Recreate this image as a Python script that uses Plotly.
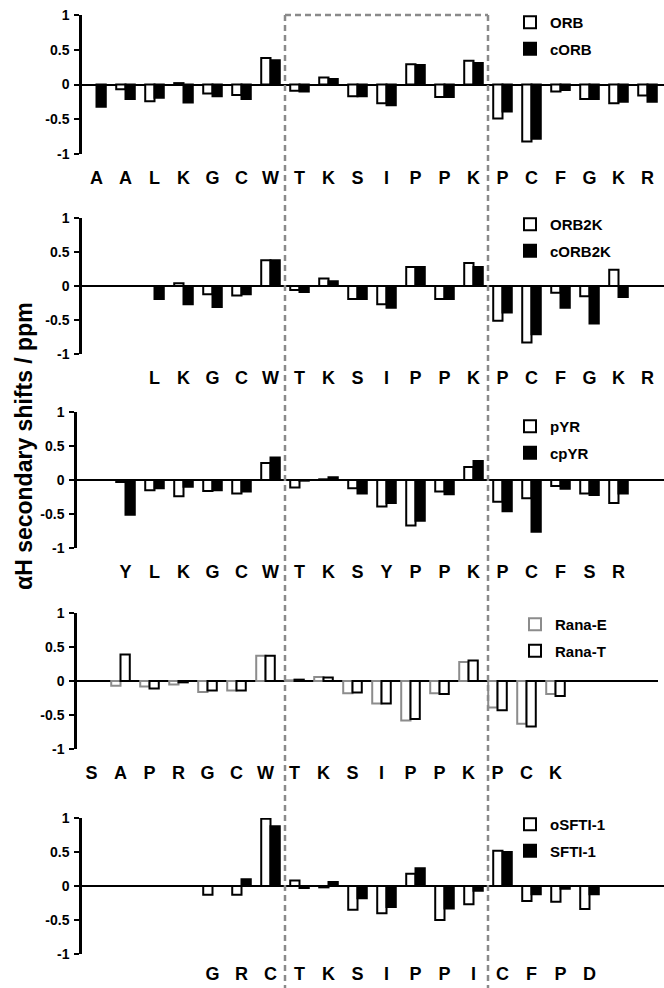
import plotly.graph_objects as go

W, H = 664, 988
FONT = "Liberation Sans, Arial, sans-serif"

# ---------------- data ----------------
labels1 = ['A','A','L','K','G','C','W','T','K','S','I','P','P','K','P','C','F','G','K','R']
orb  = [None,-0.07,-0.24,0.02,-0.13,-0.15,0.38,-0.09,0.10,-0.17,-0.27,0.29,-0.18,0.34,-0.49,-0.82,-0.10,-0.21,-0.27,-0.16]
corb = [-0.32,-0.21,-0.19,-0.26,-0.17,-0.21,0.35,-0.10,0.08,-0.17,-0.30,0.28,-0.18,0.31,-0.39,-0.78,-0.08,-0.21,-0.25,-0.25]

labels2 = ['','','L','K','G','C','W','T','K','S','I','P','P','K','P','C','F','G','K','R']
orb2k  = [None,None,None,0.04,-0.12,-0.14,0.38,-0.06,0.11,-0.19,-0.27,0.28,-0.19,0.34,-0.51,-0.83,-0.10,-0.15,0.24,None]
corb2k = [None,None,-0.19,-0.27,-0.31,-0.12,0.38,-0.09,0.07,-0.19,-0.32,0.28,-0.19,0.28,-0.39,-0.71,-0.32,-0.55,-0.16,None]

labels3 = ['','Y','L','K','G','C','W','T','K','S','Y','P','P','K','P','C','F','S','R','']
pyr  = [None,-0.03,-0.15,-0.24,-0.16,-0.20,0.25,-0.11,0.01,-0.12,-0.39,-0.67,-0.17,0.19,-0.32,-0.27,-0.09,-0.20,-0.34,None]
cpyr = [None,-0.51,-0.12,-0.10,-0.15,-0.17,0.33,-0.01,0.04,-0.20,-0.34,-0.60,-0.21,0.28,-0.46,-0.76,-0.13,-0.22,-0.20,None]

labels4 = ['S','A','P','R','G','C','W','T','K','S','I','P','P','K','P','C','K','','','']
rana_e = [None,-0.07,-0.08,-0.05,-0.16,-0.14,0.37,0.01,0.06,-0.18,-0.33,-0.58,-0.18,0.28,-0.39,-0.63,-0.19,None,None,None]
rana_t = [None,0.39,-0.11,-0.02,-0.14,-0.14,0.37,0.02,0.05,-0.17,-0.33,-0.56,-0.19,0.30,-0.43,-0.67,-0.22,None,None,None]

labels5 = ['','','','','G','R','C','T','K','S','I','P','P','I','C','F','P','D','','']
osfti = [None,None,None,None,-0.13,-0.13,0.99,0.08,-0.02,-0.35,-0.40,0.18,-0.50,-0.27,0.52,-0.22,-0.23,-0.34,None,None]
sfti  = [None,None,None,None,None,0.10,0.88,-0.03,0.06,-0.18,-0.31,0.26,-0.33,-0.07,0.50,-0.12,-0.04,-0.12,None,None]

y_ticks = [-1, -0.5, 0, 0.5, 1]
y_ticktext = ['-1', '-0.5', '0', '0.5', '1']

panels = [
    dict(labels=labels1, series=[("ORB", orb, "white", "black"), ("cORB", corb, "black", "black")],
         top=15, bottom=154, left=82, standoff=11),
    dict(labels=labels2, series=[("ORB2K", orb2k, "white", "black"), ("cORB2K", corb2k, "black", "black")],
         top=218, bottom=354, left=82, standoff=11),
    dict(labels=labels3, series=[("pYR", pyr, "white", "black"), ("cpYR", cpyr, "black", "black")],
         top=412, bottom=548, left=77, standoff=11),
    dict(labels=labels4, series=[("Rana-E", rana_e, "white", "#8c8c8c"), ("Rana-T", rana_t, "white", "black")],
         top=613, bottom=749, left=77, right=658, shift=-5, standoff=11),
    dict(labels=labels5, series=[("oSFTI-1", osfti, "white", "black"), ("SFTI-1", sfti, "black", "black")],
         top=818, bottom=954, left=82, standoff=7),
]
legend_pos = [(510, 6), (510, 208), (510, 410), (515, 608), (510, 808)]

SLOT = 29.0
fig = go.Figure()
layout = dict(
    width=W, height=H, margin=dict(l=0, r=0, t=0, b=0, autoexpand=False),
    paper_bgcolor="white", plot_bgcolor="rgba(0,0,0,0)",
    barmode="group", bargap=0.36, bargroupgap=0.0,
    font=dict(family=FONT, color="black", weight="bold"),
)

for i, p in enumerate(panels):
    n = i + 1
    xa = "x" if n == 1 else f"x{n}"
    ya = "y" if n == 1 else f"y{n}"
    lg = "legend" if n == 1 else f"legend{n}"
    idx = list(range(len(p["labels"])))
    for j, (name, vals, fill, line) in enumerate(p["series"]):
        fig.add_trace(go.Bar(
            x=idx, y=vals, name=name, xaxis=xa, yaxis=ya, legend=lg,
            legendgroup=f"g{n}{j}",
            marker=dict(color=fill, line=dict(color=line, width=2)),
            hoverinfo="skip",
        ))
    shift = p.get("shift", 0)
    left = p["left"]
    right = p.get("right", W)
    origin = 82 + shift + SLOT / 2  # pixel of slot 0
    r0 = (left - origin) / SLOT
    r1 = (right - origin) / SLOT
    layout[f"xaxis{'' if n == 1 else n}"] = dict(
        domain=[left / W, right / W], range=[r0, r1], anchor=ya,
        tickmode="array", tickvals=idx, ticktext=p["labels"],
        showgrid=False, zeroline=False, showline=False, ticks="",
        tickfont=dict(family=FONT, size=18, color="black", weight="bold"),
        ticklabelstandoff=p["standoff"], fixedrange=True, automargin=False,
    )
    layout[f"yaxis{'' if n == 1 else n}"] = dict(
        domain=[1 - p["bottom"] / H, 1 - p["top"] / H], range=[-1, 1], anchor=xa,
        tickmode="array", tickvals=y_ticks, ticktext=y_ticktext,
        showgrid=False, showline=True, linecolor="black", linewidth=2.5,
        ticks="outside", ticklen=5, tickwidth=2, tickcolor="black",
        zeroline=True, zerolinecolor="black", zerolinewidth=2,
        tickfont=dict(family=FONT, size=14, color="black", weight="bold"),
        ticklabelstandoff=2, fixedrange=True, automargin=False,
    )
    lx, ly = legend_pos[i]
    layout[lg] = dict(
        x=lx / W, y=1 - ly / H, xanchor="left", yanchor="top",
        xref="paper", yref="paper",
        bgcolor="rgba(0,0,0,0)", borderwidth=0, tracegroupgap=4,
        font=dict(family=FONT, size=15, color="black", weight="bold"),
        itemwidth=30, itemclick=False, itemdoubleclick=False,
    )

fig.update_layout(**layout)

# dashed highlight box (slots 6.5 .. 13.5 of the top panel axis)
dash = dict(color="#8a8a8a", width=2.5, dash="6px,4px")
top_y = 1 - 15 / H
fig.add_shape(type="line", xref="x", yref="paper", x0=6.5, x1=13.5, y0=top_y, y1=top_y, line=dash)
fig.add_shape(type="line", xref="x", yref="paper", x0=6.5, x1=6.5, y0=top_y, y1=0, line=dash)
fig.add_shape(type="line", xref="x", yref="paper", x0=13.5, x1=13.5, y0=top_y, y1=0, line=dash)

fig.add_annotation(
    text="αH secondary shifts / ppm", textangle=-90,
    x=24 / W, y=1 - 446 / H, xref="paper", yref="paper",
    xanchor="center", yanchor="middle", showarrow=False,
    font=dict(family=FONT, size=23, color="black", weight="bold"),
)

fig.write_html(
    "out.html",
    config={"displayModeBar": False},
    post_script="document.body.style.margin='0';document.body.style.overflow='hidden';",
)
